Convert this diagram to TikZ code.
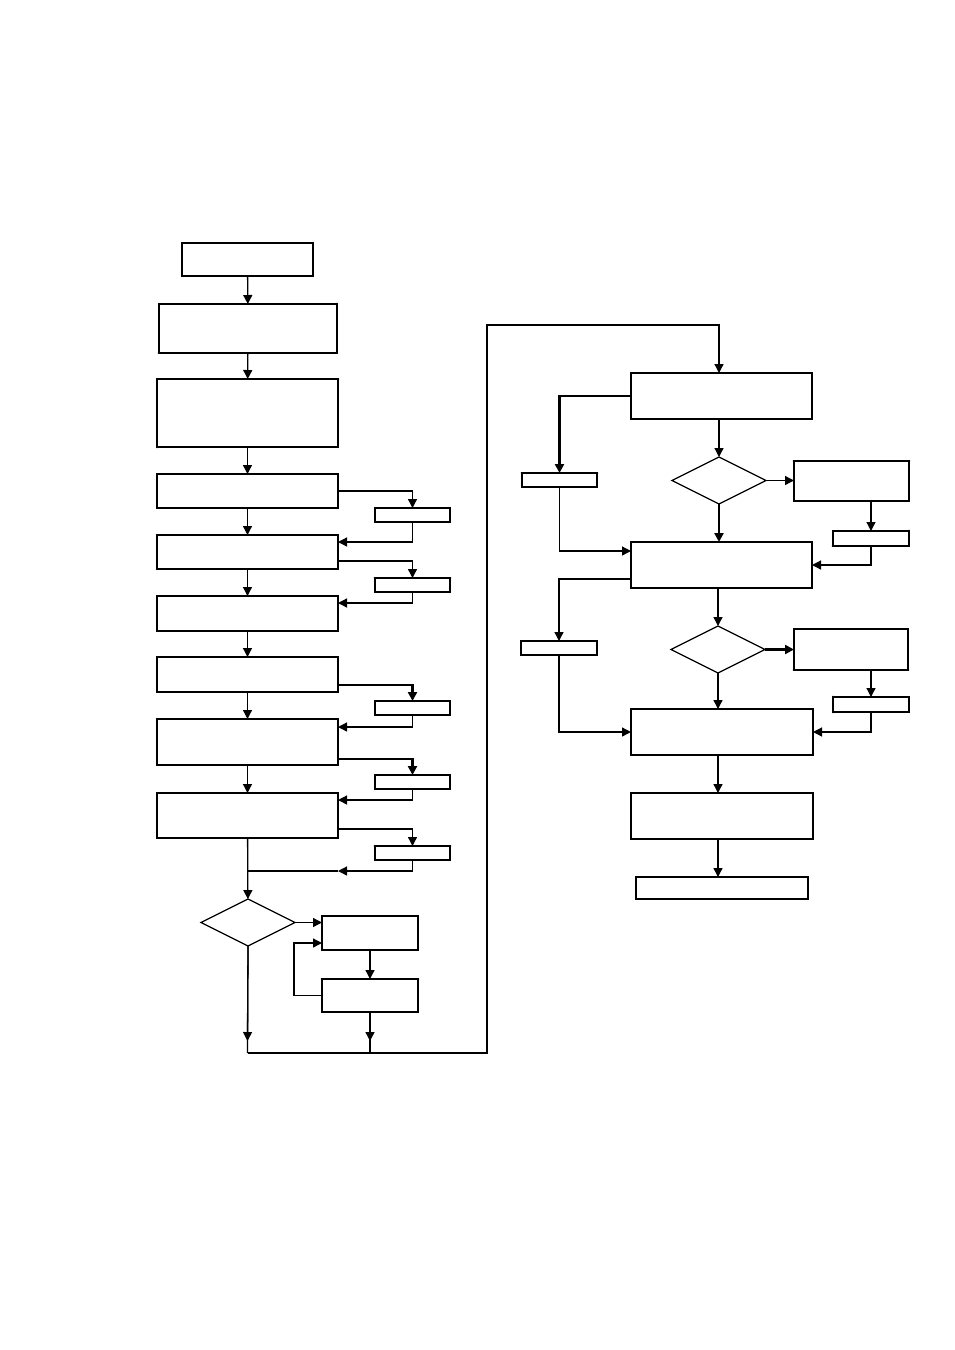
\documentclass[tikz,border=0pt]{standalone}
\usepackage{tikz}
\usetikzlibrary{shapes.geometric, arrows.meta, calc}

\begin{document}
\begin{tikzpicture}[
        x=1pt, y=-1pt,
        bloque/.style={
            rectangle,
            draw=black,
            line width=1.3pt,
            inner sep=0pt,
            outer sep=0pt,
            minimum width=181pt,
            minimum height=34pt
        },
        pequeno/.style={
            rectangle,
            draw=black,
            line width=1.3pt,
            inner sep=0pt,
            outer sep=0pt,
            minimum width=75pt,
            minimum height=14pt
        },
        decision/.style={
            diamond,
            draw=black,
            line width=1.3pt,
            inner sep=0pt,
            outer sep=0pt,
            minimum width=94pt,
            minimum height=47pt
        },
        flecha/.style={
            -{Triangle[length=9pt,width=9pt]},
            line width=1.3pt
        },
        grueso/.style={
            line width=2.6pt
        },
        borde/.style={
            line width=2.8pt,
            line cap=round
        }
    ]

    \useasboundingbox (0,0) rectangle (954,1350);

    % columna izquierda
    \node[bloque, minimum width=131pt, minimum height=33pt] (inicio) at (247.5,259.5) {};
    \node[bloque, minimum width=178pt, minimum height=49pt] (b) at (248,328.5) {};
    \node[bloque, minimum height=68pt] (c) at (247.5,413) {};
    \node[bloque] (d) at (247.5,491) {};
    \node[bloque] (e) at (247.5,552) {};
    \node[bloque, minimum height=35pt] (f) at (247.5,613.5) {};
    \node[bloque, minimum height=35pt] (g) at (247.5,674.5) {};
    \node[bloque, minimum height=46pt] (h) at (247.5,742) {};
    \node[bloque, minimum height=45pt] (i) at (247.5,815.5) {};

    \node[pequeno] (s1) at (412.5,515) {};
    \node[pequeno] (s2) at (412.5,585) {};
    \node[pequeno] (s3) at (412.5,708) {};
    \node[pequeno] (s4) at (412.5,782) {};
    \node[pequeno] (s5) at (412.5,853) {};

    \node[decision] (rombo1) at (248,922.5) {};
    \node[bloque, minimum width=96pt] (j) at (370,933) {};
    \node[bloque, minimum width=96pt, minimum height=33pt] (k) at (370,995.5) {};

    % columna derecha
    \node[bloque, minimum height=46pt] (l) at (721.5,396) {};
    \node[pequeno] (m) at (559.5,480) {};
    \node[decision] (rombo2) at (719,480.5) {};
    \node[bloque, minimum width=115pt, minimum height=40pt] (n) at (851.5,481) {};
    \node[pequeno, minimum width=76pt, minimum height=15pt] (p) at (871,538.5) {};
    \node[bloque, minimum height=46pt] (o) at (721.5,565) {};
    \node[pequeno, minimum width=76pt] (q) at (559,648) {};
    \node[decision] (rombo3) at (718,649.5) {};
    \node[bloque, minimum width=114pt, minimum height=41pt] (r) at (851,649.5) {};
    \node[pequeno, minimum width=76pt, minimum height=15pt] (t) at (871,704.5) {};
    \node[bloque, minimum width=182pt, minimum height=46pt] (s) at (722,732) {};
    \node[bloque, minimum width=182pt, minimum height=46pt] (u) at (722,816) {};
    \node[bloque, minimum width=172pt, minimum height=22pt] (v) at (722,888) {};

    \coordinate (union) at (247.5,871);
    \coordinate (base1) at (247.5,1053);
    \coordinate (base2) at (370,1053);
    \coordinate (base3) at (487,1053);
    \coordinate (cima) at (487,325);

    % bordes gruesos
    \draw[borde] (b.north east) -- (b.south east) -- (b.south west);
    \draw[borde] (c.south west) -- (c.north west) -- (c.north east);
    \draw[borde] (s2.north west) -- (s2.north east);
    \draw[borde] (s5.north west) -- (s5.north east);
    \draw[borde] (k.north west) -- (k.north east);
    \draw[borde] (m.north west) -- (m.north east);
    \draw[borde] (n.north west) -- (n.north east);
    \draw[borde] (p.north east) -- (p.south east) -- (p.south west);
    \draw[borde] (r.south west) -- (r.south east);
    \draw[borde] (t.north west) -- (t.south west);

    % flujo principal izquierdo
    \draw[flecha] (inicio) -- (b);
    \draw[flecha] (b) -- (c);
    \draw[flecha] (c) -- (d);
    \draw[flecha] (d) -- (e);
    \draw[flecha] (e) -- (f);
    \draw[flecha] (f) -- (g);
    \draw[flecha] (g) -- (h);
    \draw[flecha] (h) -- (i);
    \draw[flecha] (i) -- (rombo1);

    % desvios laterales
    \draw[flecha] (d.east) -| (s1.north);
    \draw[flecha] (s1.south) |- ([yshift=10pt]e.east);
    \draw[flecha] ([yshift=-9pt]e.east) -| (s2.north);
    \draw[flecha] (s2.south) |- ([yshift=10.5pt]f.east);
    \draw[flecha, grueso] ([yshift=-10.5pt]g.east) -| (s3.north);
    \draw[flecha] (s3.south) |- ([yshift=15pt]h.east);
    \draw[flecha, grueso] ([yshift=-17pt]h.east) -| (s4.north);
    \draw[flecha] (s4.south) |- ([yshift=15.5pt]i.east);
    \draw[flecha] ([yshift=-13.5pt]i.east) -| (s5.north);
    \draw[flecha] (s5.south) |- (i.east |- union);
    \draw[line width=1.3pt] (i.east |- union) -- (union);

    % decision y bucle
    \draw[flecha] (rombo1.east) -- (rombo1.east -| j.west);
    \draw[flecha] (j) -- (k);
    \draw[flecha] (k.west) -- ++(-28,0) |- ([yshift=-10pt]j.west);
    \draw[flecha] (rombo1.south) -- ([yshift=12pt]base1);
    \draw[flecha] (k.south) -- ([yshift=12pt]base2);
    \draw[line width=1.3pt] (rombo1.south) -- (base1);
    \draw[line width=1.3pt] (k.south) -- (base2);
    \draw[flecha] (base1) -- (base3) -- (cima) -| (l.north -| rombo2);

    % columna derecha
    \draw[flecha, grueso] (l.west) -| (m.north);
    \draw[flecha] (l.south -| rombo2) -- (rombo2.north);
    \draw[flecha] (rombo2.east) -- (rombo2.east -| n.west);
    \draw[flecha, grueso] (rombo2.south) -- (o.north -| rombo2);
    \draw[flecha] (p.north |- n.south) -- (p.north);
    \draw[flecha] (p.south) |- (o.east);
    \draw[flecha] (m.south) |- ([yshift=14pt]o.west);
    \draw[flecha] ([yshift=-14pt]o.west) -| (q.north);
    \draw[flecha] (o.south -| rombo3) -- (rombo3.north);
    \draw[flecha, grueso] (rombo3.east) -- (rombo3.east -| r.west);
    \draw[flecha] (rombo3.south) -- (s.north -| rombo3);
    \draw[flecha] (t.north |- r.south) -- (t.north);
    \draw[flecha] (t.south) |- (s.east);
    \draw[flecha] (q.south) |- (s.west);
    \draw[flecha] (s.south -| rombo3) -- (u.north -| rombo3);
    \draw[flecha] (u.south -| rombo3) -- (v.north -| rombo3);

\end{tikzpicture}
\end{document}
